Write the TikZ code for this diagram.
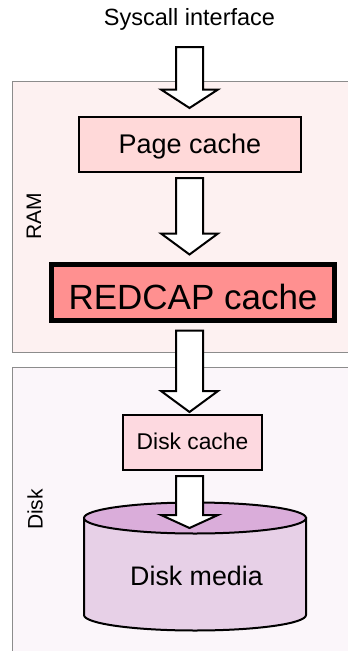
\documentclass[tikz,border=0pt]{standalone}
\usepackage{fontspec}
\setmainfont{Liberation Sans}
\usetikzlibrary{calc}

\definecolor{ramfill}{HTML}{FDF1F1}
\definecolor{diskfill}{HTML}{FBF6FA}
\definecolor{regionline}{HTML}{8C8C8C}
\definecolor{pagefill}{HTML}{FFD9D9}
\definecolor{redcapfill}{HTML}{FF9090}
\definecolor{dcachefill}{HTML}{FDD9E0}
\definecolor{mediabody}{HTML}{E7D0E7}
\definecolor{mediatop}{HTML}{DAADDA}

\tikzset{
  region/.style={draw=regionline, line width=1pt},
  cachebox/.style={draw=black, line width=2pt, inner sep=0pt, text height=#1, text depth=0pt},
  blockarrow/.style={draw=black, fill=white, line width=2pt, line join=miter},
  sidelabel/.style={rotate=90, anchor=base, font=\fontsize{21}{25}\selectfont},
}

% block arrow: top of shaft at #1, tip at #2, head length #3 (pt)
\newcommand\blockarrowpath[3]{%
  \draw[blockarrow] let \p1=(#1), \p2=(#2) in
    (\x1-13.5pt,\y1) -- (\x1-13.5pt,\y2+#3pt) -- (\x1-28.5pt,\y2+#3pt) -- (\x1,\y2)
    -- (\x1+28.5pt,\y2+#3pt) -- (\x1+13.5pt,\y2+#3pt) -- (\x1+13.5pt,\y1) -- cycle;}

\begin{document}
\begin{tikzpicture}[x=1pt,y=-1pt]
  \useasboundingbox (0,0) rectangle (348,651);
  \clip (0,0) rectangle (348,651);

  % memory regions
  \draw[region, fill=ramfill] (12.5,81.5) rectangle (360,352);
  \draw[region, fill=diskfill] (12.5,367.5) rectangle (360,680);
  \node[sidelabel] (ramlabel) at (41,216.5) {RAM};
  \node[sidelabel] (disklabel) at (42.5,509.5) {Disk};

  % title
  \node[anchor=base, font=\fontsize{23.5}{28}\selectfont] (sys) at (189.5,25.7) {Syscall interface};

  % caches
  \node[cachebox=17pt, fill=pagefill, minimum width=222pt, minimum height=55pt,
        font=\fontsize{27}{32}\selectfont] (page) at (190,144.5) {Page cache};
  \node[cachebox=33pt, fill=redcapfill, line width=5pt, minimum width=283pt, minimum height=56pt,
        font=\fontsize{35}{42}\selectfont] (redcap) at (193,292.5) {REDCAP cache};
  \node[cachebox=13pt, fill=dcachefill, minimum width=139pt, minimum height=55pt,
        font=\fontsize{22.8}{27}\selectfont] (dcache) at (192.5,442.5) {Disk cache};

  % disk media cylinder
  \draw[line width=2pt, fill=mediabody] (84,518) -- (84,615)
    arc[start angle=180, end angle=0, x radius=111, y radius=15.5] -- (306,518) -- cycle;
  \draw[line width=2pt, fill=mediatop] (195,518) ellipse [x radius=111, y radius=15.5];
  \coordinate (mtop) at (195,518);
  \node[anchor=base, font=\fontsize{26.8}{32}\selectfont] (media) at (196.5,585) {Disk media};

  % data path arrows
  \coordinate (ax) at (189.5,0);
  \coordinate (in1) at (189.5,47);
  \blockarrowpath{in1}{[yshift=8pt]ax |- page.north}{18.5}
  \blockarrowpath{[yshift=-5pt]ax |- page.south}{[yshift=7.5pt]ax |- redcap.north}{21}
  \blockarrowpath{[yshift=-7.5pt]ax |- redcap.south}{[yshift=2pt]ax |- dcache.north}{21}
  \blockarrowpath{[yshift=-5pt]ax |- dcache.south}{[yshift=-10pt]ax |- mtop}{13}
\end{tikzpicture}
\end{document}
